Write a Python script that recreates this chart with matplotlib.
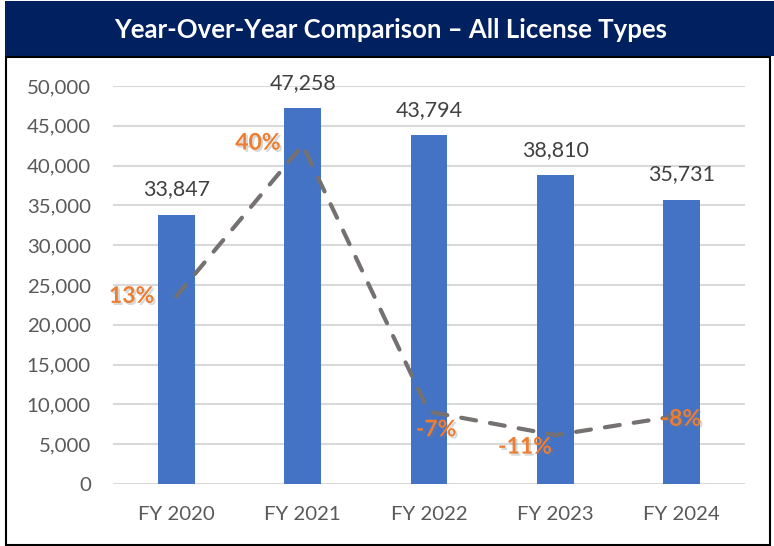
import numpy as np
import matplotlib.pyplot as plt
import matplotlib.patheffects as pe
from matplotlib.patches import Rectangle

# chart data
years = ["FY 2020", "FY 2021", "FY 2022", "FY 2023", "FY 2024"]
totals = [33847, 47258, 43794, 38810, 35731]
yoy = [0.13, 0.396, -0.073, -0.114, -0.079]
yoy_labels = ["13%", "40%", "-7%", "-11%", "-8%"]
yticks = [0, 5000, 10000, 15000, 20000, 25000, 30000, 35000, 40000, 45000, 50000]

# label nudges (pixels) for the percent labels, as placed in the original
pct_offsets = [(-22, 0), (-22, 2), (7, -18), (-4, -12), (-1, -4)]
pct_ha = ["right", "right", "center", "right", "center"]

plt.rcParams['font.family'] = ['Lato', 'DejaVu Sans']

fig = plt.figure(figsize=(7.74, 5.46), dpi=100)
W, H = 774, 546

# title bar + outer frame
fig.patches.append(Rectangle((5 / W, 1 - 56 / H), 1 - 5 / W, 55 / H, transform=fig.transFigure,
                             facecolor="#002060", edgecolor="none", zorder=-2))
fig.patches.append(Rectangle((5.5 / W, 1.5 / H), 764 / W, (H - 58) / H, transform=fig.transFigure,
                             facecolor="white", edgecolor="black", linewidth=1.5, zorder=-2))
fig.text(391 / W, 1 - 30 / H, "Year-Over-Year Comparison \u2013 All License Types",
         color="white", fontsize=18.5, fontweight="bold", ha="center", va="center")

ax = fig.add_axes([113 / W, 1 - 484 / H, (745 - 113) / W, (484 - 86) / H])
ax.set_zorder(1)
ax.patch.set_visible(False)
x = np.arange(len(years))
ax.bar(x, totals, width=0.29, color="#4472C4", zorder=2)
ax.set_ylim(0, 50000)
ax.set_xlim(-0.5, len(years) - 0.5)
ax.set_yticks(yticks)
ax.set_yticklabels([f"{v:,}" for v in yticks])
ax.set_xticks(x)
ax.set_xticklabels(years)
ax.yaxis.grid(True, color="#D9D9D9", linewidth=1.5, zorder=0)
ax.set_axisbelow(True)
for s in ax.spines.values():
    s.set_visible(False)
ax.tick_params(axis="both", length=0, labelsize=14.7, labelcolor="#595959")
ax.tick_params(axis="y", pad=16)
ax.tick_params(axis="x", pad=16)

for xi, v in zip(x, totals):
    ax.annotate(f"{v:,}", (xi, v), xytext=(0, 25), textcoords="offset pixels",
                ha="center", va="center", fontsize=15.4, color="#404040")

# secondary axis for the YoY line (hidden)
ax2 = ax.twinx()
ax2.set_zorder(2)
ax2.set_ylim(-0.2, 0.5)
ax2.set_axis_off()
ax2.plot(x, yoy, color="#767171", linewidth=3.0, linestyle=(0, (3.6, 3.4)),
         dash_capstyle="round", solid_capstyle="round", zorder=3)

shadow = [pe.SimplePatchShadow(offset=(1.5, -1.5), shadow_rgbFace="#7f7f7f", alpha=0.3), pe.Normal()]
for xi, v, lab, off, ha in zip(x, yoy, yoy_labels, pct_offsets, pct_ha):
    t = ax2.annotate(lab, (xi, v), xytext=off, textcoords="offset pixels",
                     ha=ha, va="center", fontsize=16.5, fontweight="bold", color="#ED7D31", zorder=4)
    t.set_path_effects(shadow)

fig.savefig("out.png", dpi=100)
